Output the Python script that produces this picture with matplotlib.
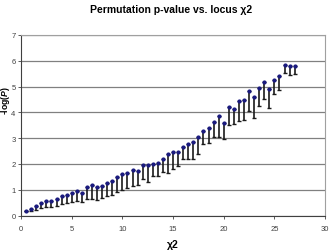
import numpy as np
import matplotlib
matplotlib.use('Agg')
import matplotlib.pyplot as plt

plt.rcParams['font.family'] = ['Liberation Sans', 'DejaVu Sans']
plt.rcParams['mathtext.fontset'] = 'custom'
plt.rcParams['mathtext.it'] = 'Liberation Sans:italic:bold'
plt.rcParams['mathtext.rm'] = 'Liberation Sans:bold'

# locus chi2 values
chi2 = [0.5, 1.0, 1.5, 2.0, 2.5, 3.0, 3.5, 4.0, 4.5, 5.0, 5.5, 6.0, 6.5, 7.0,
        7.5, 8.0, 8.5, 9.0, 9.5, 10.0, 10.5, 11.0, 11.5, 12.0, 12.5, 13.0, 13.5,
        14.0, 14.5, 15.0, 15.5, 16.0, 16.5, 17.0, 17.5, 18.0, 18.5, 19.0, 19.5,
        20.0, 20.5, 21.0, 21.5, 22.0, 22.5, 23.0, 23.5, 24.0, 24.5, 25.0, 25.5,
        26.0, 26.5, 27.0]
# -log(P) point (top)
logp_top = [0.19, 0.25, 0.36, 0.48, 0.57, 0.57, 0.63, 0.75, 0.80, 0.89, 0.95,
            0.89, 1.10, 1.19, 1.11, 1.16, 1.28, 1.33, 1.50, 1.63, 1.65, 1.78,
            1.73, 1.95, 1.95, 2.00, 2.05, 2.18, 2.37, 2.46, 2.48, 2.65, 2.79,
            2.86, 3.03, 3.29, 3.38, 3.61, 3.84, 3.58, 4.19, 4.13, 4.43, 4.49,
            4.81, 4.58, 4.96, 5.18, 4.91, 5.26, 5.40, 5.82, 5.79, 5.79]
# lower end of interval
logp_low = [0.16, 0.18, 0.23, 0.30, 0.32, 0.35, 0.39, 0.45, 0.49, 0.52, 0.57,
            0.52, 0.65, 0.65, 0.62, 0.68, 0.75, 0.80, 0.90, 1.01, 1.06, 1.16,
            1.20, 1.42, 1.32, 1.52, 1.52, 1.68, 1.64, 1.81, 1.91, 2.20, 2.18,
            2.21, 2.38, 2.77, 2.83, 3.03, 3.03, 2.96, 3.51, 3.55, 3.68, 3.70,
            4.06, 3.77, 4.26, 4.52, 4.16, 4.71, 4.87, 5.52, 5.43, 5.47]

top = np.array(logp_top)
low = np.array(logp_low)

fig = plt.figure(figsize=(3.29, 2.53), dpi=100)
ax = fig.add_axes([0.064, 0.144, 0.924, 0.714])

ax.errorbar(chi2, top, yerr=[top - low, np.zeros_like(top)], fmt='o',
            color='#1a1a80', ms=2.0, ecolor='#1a1a1a', elinewidth=1.2,
            capsize=1.5, capthick=1.0, zorder=3)

ax.set_xlim(0, 30)
ax.set_ylim(0, 7)
ax.set_xticks(range(0, 31, 5))
ax.set_yticks(range(0, 8))
ax.yaxis.grid(True, color='#808080', lw=0.9)
ax.set_axisbelow(True)
for s in ['top', 'right']:
    ax.spines[s].set_color('#a0a0a0')
for s in ['left', 'bottom']:
    ax.spines[s].set_color('#404040')
ax.tick_params(labelsize=5.5, length=2, width=0.6, colors='#404040', pad=2)
ax.tick_params(axis='x', pad=5)

fig.text(0.52, 0.96, 'Permutation p-value vs. locus \u03c72', ha='center', va='center',
         fontsize=7.5, fontweight='bold')
ax.set_xlabel('\u03c72', fontsize=7.5, fontweight='bold', labelpad=5)
ax.set_ylabel('-log($\\mathit{P}$)', fontsize=6.2, fontweight='bold')
ax.yaxis.set_label_coords(-0.029, 0.64)

fig.savefig('out.png', dpi=100)
